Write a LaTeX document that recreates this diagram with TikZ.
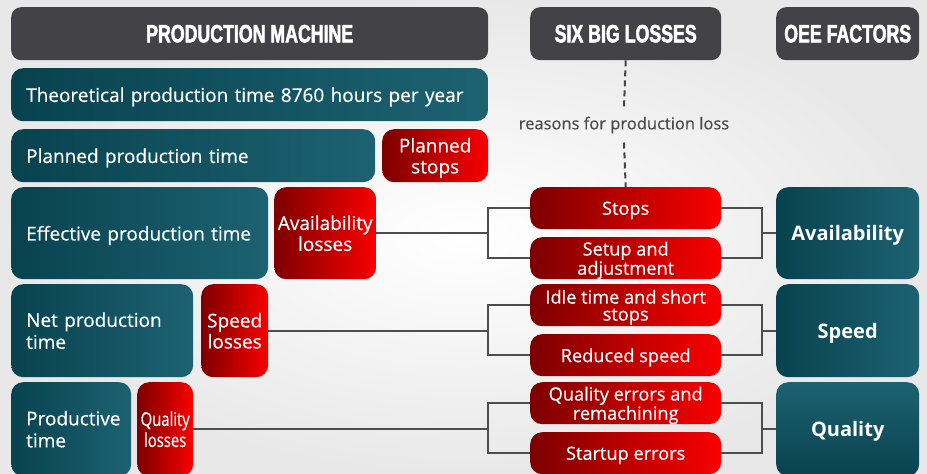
\documentclass[tikz,border=0pt]{standalone}
\usepackage{fontspec}
\setmainfont{Open Sans}
\newfontfamily\boxfont[FakeBold=0.4]{Open Sans}
\newfontfamily\headfont[FakeStretch=0.71,FakeBold=2]{Liberation Sans}
\newfontfamily\narrowfont[FakeStretch=0.78,FakeBold=0.4]{Open Sans}

\definecolor{headgray}{HTML}{434347}
\definecolor{tealdark}{HTML}{08424F}
\definecolor{teallight}{HTML}{1D6271}
\definecolor{reddark}{HTML}{7D0000}
\definecolor{redlight}{HTML}{FA0000}
\definecolor{linegray}{HTML}{4D4D4D}
\definecolor{labelgray}{HTML}{4A4A4A}

\tikzset{
    head/.style = {rounded corners=10pt, fill=headgray, text=white, anchor=north west,
                   font=\headfont\bfseries\fontsize{25}{28}\selectfont},
    timebox/.style = {rounded corners=12pt, left color=tealdark, right color=teallight,
                      text=white, anchor=north west, align=left, inner xsep=15pt, text depth=0pt,
                      font=\boxfont\fontsize{19}{22}\selectfont},
    twolines/.style = {text depth=},
    lossbox/.style = {rounded corners=12pt, left color=reddark, right color=redlight,
                      text=white, anchor=north west, align=center, inner sep=0pt, text depth=0pt,
                      font=\boxfont\fontsize{19}{21}\selectfont},
    causebox/.style = {lossbox, font=\boxfont\fontsize{18.2}{17}\selectfont},
    factor/.style = {timebox, align=center, font=\bfseries\fontsize{20}{22}\selectfont},
    conn/.style = {draw=linegray, line width=2pt},
}

\begin{document}
\begin{tikzpicture}[x=1pt, y=-1pt]
    \useasboundingbox (0,0) rectangle (927,474);
    \fill [inner color=white, outer color=black!9] (0,0) rectangle (927,474);

    % headers
    \node [head, minimum width=477pt, minimum height=53pt] (machine) at (11,7) {PRODUCTION MACHINE};
    \node [head, minimum width=191pt, minimum height=53pt] (losses) at (530,7) {SIX BIG LOSSES};
    \node [head, minimum width=143pt, minimum height=53pt] (oee) at (776,7) {OEE FACTORS};

    % production machine
    \node [timebox, minimum height=53pt, text width=447pt] (theo) at (11,68) {Theoretical production time 8760 hours per year};
    \node [timebox, minimum height=53pt, text width=334pt] (planned) at (11,129) {Planned production time};
    \node [lossbox, minimum width=106pt, minimum height=53pt] (plannedstops) at (382,129) {Planned\\stops};
    \node [timebox, minimum height=92pt, text width=227pt] (effective) at (11,187) {Effective production time};
    \node [lossbox, minimum width=102pt, minimum height=92pt] (availloss) at (274,187) {Availability\\losses};
    \node [timebox, twolines, minimum height=93pt, text width=152pt] (net) at (11,284) {Net production\\time};
    \node [lossbox, minimum width=67pt, minimum height=93pt] (speedloss) at (201,284) {Speed\\losses};
    \node [timebox, twolines, minimum height=94pt, text width=90pt] (productive) at (11,382) {Productive\\time};
    \node [lossbox, minimum width=56pt, minimum height=94pt,
           font=\narrowfont\fontsize{19}{21}\selectfont] (qualloss) at (137,382) {Quality\\losses};

    % six big losses
    \node [causebox, minimum width=191pt, minimum height=42pt] (stops) at (530,187) {Stops};
    \node [causebox, minimum width=191pt, minimum height=42pt] (setup) at (530,237) {Setup and\\adjustment};
    \node [causebox, minimum width=191pt, minimum height=42pt] (idle) at (530,284) {Idle time and short\\stops};
    \node [causebox, minimum width=191pt, minimum height=42pt] (reduced) at (530,334) {Reduced speed};
    \node [causebox, minimum width=191pt, minimum height=42pt] (qualerr) at (530,382) {Quality errors and\\remachining};
    \node [causebox, minimum width=191pt, minimum height=42pt] (startup) at (530,432) {Startup errors};

    % oee factors
    \node [factor, minimum width=143pt, minimum height=92pt] (availf) at (776,187) {Availability};
    \node [factor, minimum width=143pt, minimum height=93pt] (speedf) at (776,284) {Speed};
    \node [factor, minimum width=143pt, minimum height=94pt,
           top color=teallight, bottom color=tealdark] (qualf) at (776,382) {Quality};

    % reasons label
    \node [text=labelgray, font=\boxfont\fontsize{16.5}{18}\selectfont, inner ysep=9pt] (reason) at (624,125) {reasons for production loss};
    \draw [conn, draw=headgray, dash pattern=on 6pt off 4pt] (losses.south) -- (reason.north);
    \draw [conn, draw=headgray, dash pattern=on 6pt off 4pt] (reason.south) -- (stops.north);

    % connectors
    \coordinate (lbar) at (488,0);
    \coordinate (rbar) at (762,0);

    \draw [conn] (availloss.east) -- (availloss.east -| lbar);
    \draw [conn] (stops.west) -| (lbar |- setup.west) -- (setup.west);
    \draw [conn] (stops.east) -| (rbar |- setup.east) -- (setup.east);
    \draw [conn] (availf.west) -- (availf.west -| rbar);

    \draw [conn] (speedloss.east) -- (speedloss.east -| lbar);
    \draw [conn] (idle.west) -| (lbar |- reduced.west) -- (reduced.west);
    \draw [conn] (idle.east) -| (rbar |- reduced.east) -- (reduced.east);
    \draw [conn] (speedf.west) -- (speedf.west -| rbar);

    \draw [conn] (qualloss.east) -- (qualloss.east -| lbar);
    \draw [conn] (qualerr.west) -| (lbar |- startup.west) -- (startup.west);
    \draw [conn] (qualerr.east) -| (rbar |- startup.east) -- (startup.east);
    \draw [conn] (qualf.west) -- (qualf.west -| rbar);
\end{tikzpicture}
\end{document}
